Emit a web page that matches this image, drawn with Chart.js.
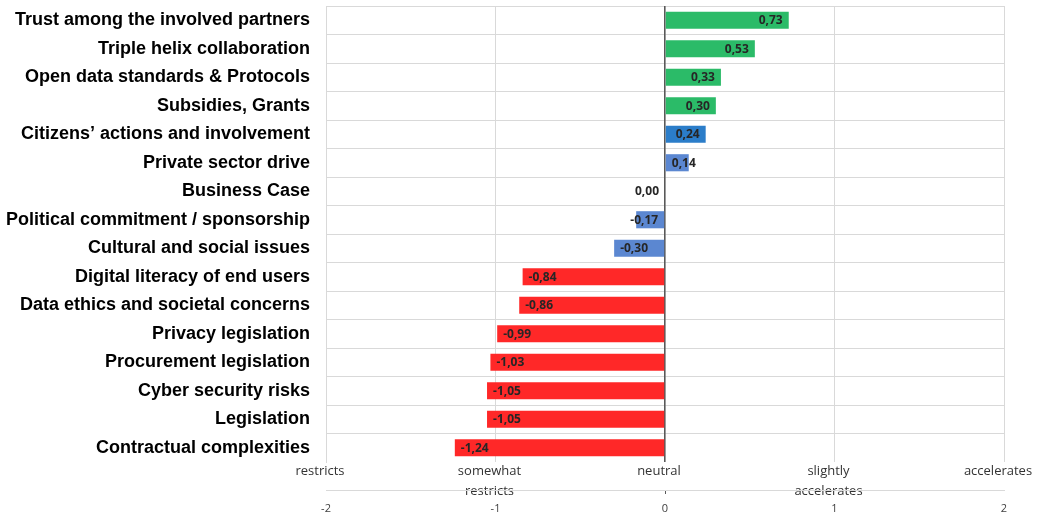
<!DOCTYPE html>
<html>
<head>
<meta charset="utf-8">
<script src="https://cdn.jsdelivr.net/npm/chart.js@4/dist/chart.umd.min.js"></script>
<style>
  html, body { margin: 0; padding: 0; background: #ffffff; }
  #wrap { width: 1037px; height: 518px; }
</style>
</head>
<body>
<div id="wrap"><canvas id="c" width="1037" height="518"></canvas></div>
<script>
// ---- data ----
const categories = [
  'Trust among the involved partners',
  'Triple helix collaboration',
  'Open data standards & Protocols',
  'Subsidies, Grants',
  'Citizens\u2019 actions and involvement',
  'Private sector drive',
  'Business Case',
  'Political commitment / sponsorship',
  'Cultural and social issues',
  'Digital literacy of end users',
  'Data ethics and societal concerns',
  'Privacy legislation',
  'Procurement legislation',
  'Cyber security risks',
  'Legislation',
  'Contractual complexities'
];
const values = [0.73, 0.53, 0.33, 0.30, 0.24, 0.14, 0.00, -0.17, -0.30, -0.84, -0.86, -0.99, -1.03, -1.05, -1.05, -1.24];
const scaleValues = [-2, -1, 0, 1, 2];
const scaleLabels = [['restricts'], ['somewhat', 'restricts'], ['neutral'], ['slightly', 'accelerates'], ['accelerates']];

// ---- styles ----
const GREEN = '#2BBB68', BLUE = '#2B7DC9', LIGHTBLUE = '#5B87D1', RED = '#FF2828';
const barColors = [GREEN, GREEN, GREEN, GREEN, BLUE, LIGHTBLUE, LIGHTBLUE, LIGHTBLUE, LIGHTBLUE,
  RED, RED, RED, RED, RED, RED, RED];
const GRID = '#d9d9d9';

const fmt = v => v.toFixed(2).replace('.', ',');

const valueLabels = {
  id: 'valueLabels',
  afterDatasetsDraw(chart) {
    const ctx = chart.ctx;
    const meta = chart.getDatasetMeta(0);
    ctx.save();
    ctx.font = 'bold 12px "Open Sans"';
    ctx.fillStyle = '#262626';
    ctx.textBaseline = 'middle';
    meta.data.forEach((bar, i) => {
      const v = values[i];
      const txt = fmt(v);
      const w = ctx.measureText(txt).width;
      const len = Math.abs(bar.x - bar.base);
      const pad = 6;
      if (w + 2 * pad <= len) {
        if (v > 0) { ctx.textAlign = 'right'; ctx.fillText(txt, bar.x - pad, bar.y + 0.5); }
        else { ctx.textAlign = 'left'; ctx.fillText(txt, bar.x + pad, bar.y + 0.5); }
      } else {
        if (v > 0) { ctx.textAlign = 'left'; ctx.fillText(txt, bar.base + pad, bar.y + 0.5); }
        else { ctx.textAlign = 'right'; ctx.fillText(txt, bar.base - pad, bar.y + 0.5); }
      }
    });
    ctx.restore();
  }
};

new Chart(document.getElementById('c'), {
  type: 'bar',
  data: {
    labels: categories,
    datasets: [{
      data: values,
      backgroundColor: barColors,
      borderWidth: 0,
      categoryPercentage: 1,
      barPercentage: 0.6
    }]
  },
  options: {
    indexAxis: 'y',
    responsive: false,
    animation: false,
    devicePixelRatio: 1,
    layout: { padding: { left: 0, right: 33, top: 6, bottom: 0 } },
    plugins: { legend: { display: false }, tooltip: { enabled: false } },
    scales: {
      y: {
        type: 'category',
        position: 'left',
        grid: {
          offset: true,
          drawTicks: false,
          color: c => (c.tick ? GRID : 'rgba(0,0,0,0)'),
          lineWidth: 1
        },
        border: { display: true, color: GRID, width: 1 },
        ticks: {
          autoSkip: false,
          padding: 16,
          color: '#000000',
          font: { family: '"Liberation Sans", Arial, sans-serif', size: 18, weight: 'bold' }
        },
        afterFit: s => { s.width = 326; s.paddingTop = 0; s.paddingBottom = 0; }
      },
      xText: {
        type: 'linear',
        axis: 'x',
        position: 'bottom',
        weight: 1,
        z: 1,
        min: -2, max: 2,
        afterBuildTicks: s => { s.ticks = scaleValues.map(v => ({ value: v })); },
        grid: {
          display: true,
          drawOnChartArea: true,
          drawTicks: false,
          color: c => (c.tick && c.tick.value === 0 ? '#595959' : 'rgba(0,0,0,0)'),
          lineWidth: c => (c.tick && c.tick.value === 0 ? 1.6 : 1)
        },
        border: { display: false },
        ticks: {
          padding: 0,
          labelOffset: -6,
          maxRotation: 0,
          autoSkip: false,
          color: '#333333',
          font: { family: '"Open Sans", sans-serif', size: 13, lineHeight: 1.5 },
          callback: v => scaleLabels[scaleValues.indexOf(v)]
        },
        afterFit: s => {
          s.height = 28; s.paddingLeft = 0; s.paddingRight = 0;
          s._computeLabelArea = () => undefined;
        }
      },
      x: {
        type: 'linear',
        position: 'bottom',
        weight: 2,
        min: -2, max: 2,
        afterBuildTicks: s => { s.ticks = scaleValues.map(v => ({ value: v })); },
        grid: {
          display: true,
          drawOnChartArea: true,
          drawTicks: true,
          tickLength: 4,
          color: c => (c.tick && c.tick.value === 0 ? 'rgba(0,0,0,0)' : GRID),
          tickColor: c => (c.tick && c.tick.value === 0 ? '#595959' : 'rgba(0,0,0,0)'),
          lineWidth: 1
        },
        border: { display: true, color: GRID, width: 1 },
        ticks: {
          padding: 8,
          maxRotation: 0,
          autoSkip: false,
          color: '#404040',
          font: { family: '"Open Sans", sans-serif', size: 11 },
          callback: v => String(v)
        },
        afterFit: s => { s.height = 28; s.paddingLeft = 0; s.paddingRight = 0; }
      }
    }
  },
  plugins: [valueLabels]
});
</script>
</body>
</html>
